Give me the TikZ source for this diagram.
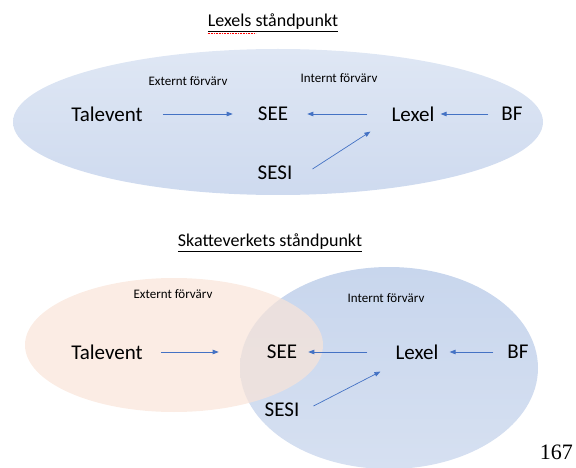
\documentclass[tikz,border=0pt]{standalone}
\usepackage{fontspec}
\setmainfont{Carlito}
\newfontfamily\pagefont{Liberation Serif}
\usetikzlibrary{arrows.meta}
\definecolor{arrowblue}{RGB}{68,114,196}
\definecolor{ovaltop}{RGB}{223,231,244}
\definecolor{ovalbottom}{RGB}{206,218,239}
\definecolor{innerblue}{RGB}{200,214,237}
\definecolor{innerbluelow}{RGB}{214,224,241}
\definecolor{peach}{RGB}{249,228,216}
\begin{document}
\begin{tikzpicture}[x=1pt,y=-1pt,
  lbl/.style={inner sep=0pt,font=\fontsize{21}{24}\selectfont},
  small/.style={inner sep=0pt,font=\fontsize{13}{15}\selectfont},
  heading/.style={inner sep=0pt,font=\fontsize{18}{21}\selectfont},
  arr/.style={draw=arrowblue,line width=0.7pt,-{Triangle[length=6pt,width=4.5pt]}}]
\useasboundingbox (0,0) rectangle (576,468);
% Lexels standpunkt
\shade[top color=ovaltop,bottom color=ovalbottom] (278,122) ellipse [x radius=265,y radius=73];
\node[heading] (head1) at (273,23) {\underline{Lexels ståndpunkt}};
\draw[red,densely dotted,line width=0.6pt] ([yshift=-1]head1.south west) -- ++(48,0);
\node[small] (ext1) at (188,81) {Externt förvärv};
\node[small] (int1) at (339,78) {Internt förvärv};
\node[lbl] (tal1) at (107,114) {Talevent};
\node[lbl] (see1) at (273,114) {SEE};
\node[lbl] (lex1) at (413,114) {Lexel};
\node[lbl] (bf1) at (512,114) {BF};
\node[lbl] (sesi1) at (275,173) {SESI};
\draw[arr,shorten <=20pt,shorten >=25pt] (tal1) -- (see1);
\draw[arr,shorten <=24pt,shorten >=19pt] (lex1) -- (see1);
\draw[arr,shorten <=13pt,shorten >=6pt] (bf1) -- (lex1);
\draw[arr] ([shift={(20,-4)}]sesi1.east) -- ([shift={(-21,10)}]lex1.south west);
% Skatteverkets standpunkt
\shade[top color=innerblue,bottom color=innerbluelow] (389,368) ellipse [x radius=149,y radius=101];
\fill[peach,opacity=0.7] (174,345) ellipse [x radius=149,y radius=67];
\node[heading] (head2) at (270,243) {\underline{Skatteverkets ståndpunkt}};
\node[small] (ext2) at (173,294) {Externt förvärv};
\node[small] (int2) at (386,298) {Internt förvärv};
\node[lbl] (tal2) at (107,352) {Talevent};
\node[lbl] (see2) at (282,352) {SEE};
\node[lbl] (lex2) at (417,352) {Lexel};
\node[lbl] (bf2) at (518,352) {BF};
\node[lbl] (sesi2) at (282,410) {SESI};
\draw[arr,shorten <=18pt,shorten >=48pt] (tal2) -- (see2);
\draw[arr,shorten <=28pt,shorten >=11pt] (lex2) -- (see2);
\draw[arr,shorten <=14pt,shorten >=11pt] (bf2) -- (lex2);
\draw[arr] ([shift={(14,-4)}]sesi2.east) -- ([shift={(-15,12)}]lex2.south west);
\node[inner sep=0pt,anchor=east,font=\pagefont\fontsize{22}{26}\selectfont] (page) at (573,452) {167};
\end{tikzpicture}
\end{document}
